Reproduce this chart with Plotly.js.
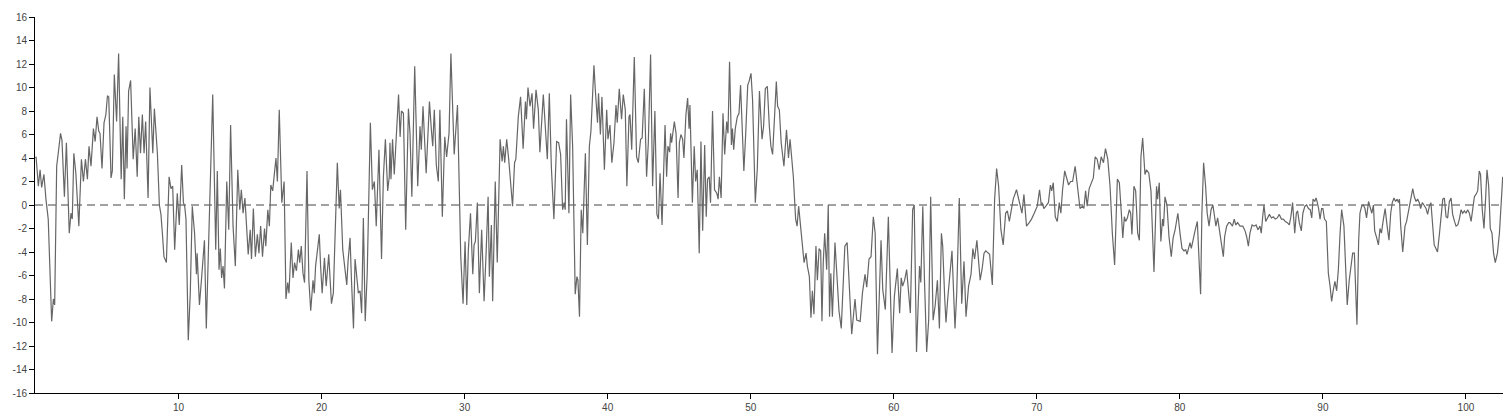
<!DOCTYPE html>
<html>
<head>
<meta charset="utf-8">
<script src="https://cdn.plot.ly/plotly-3.0.1.min.js"></script>
<style>html,body{margin:0;padding:0;background:#fff;}#chart{width:1508px;height:416px;}</style>
</head>
<body>
<div id="chart"></div>
<script>
const xValues = [
0.00,0.04,0.20,0.32,0.43,0.59,0.73,0.89,1.13,1.25,1.34,1.48,1.59,1.75,1.85,2.02,2.16,2.36,2.48,2.57,2.68,2.82,3.03,3.21,3.35,3.49,3.63,3.74,3.88,4.05,4.17,4.30,4.42,4.51,4.65,4.79,4.92,5.03,5.12,5.28,5.37,5.51,5.67,5.81,5.99,6.10,6.21,6.33,6.40,6.51,6.65,6.83,6.97,7.11,7.22,7.34,7.47,7.59,7.70,7.87,
8.00,8.20,8.31,8.52,8.66,8.77,8.87,8.98,9.15,9.34,9.47,9.59,9.73,9.91,10.05,10.22,10.34,10.43,10.52,10.68,10.82,10.96,11.12,11.25,11.30,11.46,11.60,11.81,11.94,12.12,12.21,12.39,12.60,12.71,12.83,12.92,13.01,13.11,13.21,13.37,13.51,13.64,13.81,13.97,14.14,14.28,14.39,14.51,14.64,14.76,14.87,15.01,15.10,15.23,15.37,15.51,15.62,15.74,15.87,16.01,16.10,16.24,16.35,
16.45,16.58,16.81,16.91,17.04,17.22,17.38,17.51,17.63,17.72,17.88,18.00,18.11,18.24,18.38,18.47,18.58,18.70,18.81,18.98,19.11,19.24,19.40,19.49,19.58,19.68,19.84,19.93,20.04,20.20,20.32,20.50,20.69,20.82,21.10,21.23,21.32,21.48,21.62,21.76,21.85,21.99,22.08,22.23,22.34,22.43,22.57,22.69,22.80,22.92,23.05,23.19,23.41,23.55,23.69,23.82,24.01,24.19,24.32,24.46,24.62,24.73,
24.78,24.85,24.96,25.08,25.38,25.49,25.58,25.72,25.88,26.07,26.18,26.31,26.51,26.72,26.88,26.97,27.09,27.31,27.54,27.68,27.77,27.88,28.02,28.16,28.27,28.44,28.61,28.74,28.91,29.04,29.27,29.50,29.62,29.73,29.89,30.03,30.15,30.26,30.41,30.57,30.66,30.75,30.89,31.03,31.19,31.36,31.50,31.64,31.73,31.87,31.96,32.14,32.28,32.48,32.62,32.71,32.80,32.94,33.08,
33.21,33.35,33.49,33.58,33.75,33.91,34.09,34.25,34.32,34.43,34.57,34.71,34.82,34.99,35.15,35.26,35.50,35.62,35.78,35.92,36.06,36.24,36.43,36.57,36.71,36.85,36.96,37.03,37.12,37.29,37.41,37.55,37.73,37.85,37.92,38.03,38.15,38.26,38.44,38.58,38.72,38.83,38.95,39.04,39.13,39.29,39.36,39.49,39.60,39.77,39.93,40.02,40.16,40.29,40.44,40.58,40.67,40.81,40.97,41.09,41.23,41.34,41.49,
41.56,41.68,41.86,42.02,42.14,42.30,42.41,42.56,42.72,42.84,43.00,43.14,43.30,43.44,43.55,43.66,43.80,44.01,44.12,44.21,44.33,44.40,44.47,44.66,44.78,44.92,45.01,45.12,45.24,45.33,45.47,45.59,45.69,45.75,45.92,46.05,46.15,46.26,46.40,46.52,46.64,46.78,46.89,46.98,47.10,47.19,47.33,47.47,47.63,47.72,47.81,47.93,48.06,48.18,48.32,48.41,48.52,48.65,48.72,48.81,48.92,49.06,49.18,49.29,49.41,49.52,49.65,49.79,49.88,
50.02,50.13,50.32,50.46,50.61,50.79,50.90,51.02,51.16,51.30,51.41,51.53,51.65,51.79,51.88,52.00,52.13,52.32,52.50,52.64,52.75,52.87,52.98,53.14,53.24,53.35,53.44,53.58,53.73,53.87,53.96,54.10,54.21,54.31,54.42,54.56,54.66,54.78,54.89,54.98,55.07,55.17,55.31,55.42,55.51,55.60,55.71,55.89,56.05,56.17,56.33,56.47,56.58,56.74,56.88,57.06,57.29,57.41,57.65,57.81,57.99,58.11,58.27,
58.41,58.57,58.70,58.86,59.11,59.23,59.41,59.62,59.74,59.88,60.04,60.25,60.41,60.52,60.62,60.76,60.90,61.02,61.16,61.32,61.43,61.59,61.80,61.89,62.03,62.14,62.30,62.44,62.58,62.75,62.89,63.05,63.19,63.33,63.42,63.56,63.65,63.77,63.94,64.07,64.28,64.40,64.58,64.75,64.91,65.05,65.23,65.40,65.53,65.65,65.81,65.92,66.04,66.18,66.31,66.43,66.57,66.70,
66.89,67.05,67.19,67.33,67.49,67.65,67.82,67.94,68.08,68.26,68.35,68.58,68.70,68.87,68.96,69.10,69.28,69.47,69.63,69.82,70.03,70.19,70.31,70.37,70.49,70.63,70.81,70.95,71.04,71.15,71.29,71.43,71.57,71.68,71.80,71.95,72.09,72.22,72.36,72.50,72.68,72.83,73.02,73.20,73.29,73.41,73.52,73.66,73.82,73.95,74.08,74.22,74.36,74.50,74.66,74.80,74.96,75.12,
75.28,75.44,75.63,75.77,75.91,76.01,76.12,76.21,76.33,76.47,76.56,76.65,76.79,76.91,77.05,77.17,77.28,77.40,77.56,77.67,77.83,77.98,78.19,78.37,78.44,78.56,78.67,78.79,78.86,78.96,79.10,79.24,79.40,79.53,79.67,79.86,80.01,80.15,80.29,80.41,80.50,80.61,80.71,80.80,80.95,81.06,81.22,81.31,81.45,81.54,81.66,81.80,81.91,82.04,82.18,82.31,82.41,82.52,82.64,82.75,82.89,83.04,83.13,83.27,83.41,
83.50,83.68,83.80,83.91,84.03,84.21,84.40,84.56,84.67,84.79,84.90,85.05,85.19,85.33,85.46,85.60,85.69,85.79,85.88,86.00,86.12,86.26,86.40,86.53,86.67,86.81,86.95,87.10,87.23,87.37,87.51,87.65,87.76,87.88,88.03,88.14,88.23,88.35,88.49,88.60,88.74,88.86,88.99,89.11,89.22,89.31,89.43,89.52,89.61,89.70,89.80,89.91,90.00,90.11,90.24,90.38,90.50,90.61,90.73,90.84,90.96,91.08,91.20,91.31,91.47,91.59,91.70,91.84,91.96,92.08,92.20,92.29,92.38,92.50,92.59,
92.71,92.82,92.94,93.05,93.19,93.30,93.42,93.53,93.62,93.76,93.88,93.99,94.09,94.23,94.35,94.49,94.62,94.74,94.85,94.97,95.08,95.19,95.28,95.35,95.44,95.58,95.74,95.85,96.01,96.16,96.28,96.39,96.51,96.62,96.74,96.83,96.95,97.06,97.21,97.32,97.44,97.55,97.67,97.78,97.90,98.01,98.15,98.26,98.38,98.49,98.61,98.72,98.84,98.96,99.07,99.20,99.31,99.43,99.54,99.66,99.77,99.89,100.00,100.12,100.24,100.36,100.47,100.59,100.70,100.82,100.93,101.02,101.14,101.26,101.38,101.47,101.59,101.70,101.82,101.93,102.05,102.20,102.34,102.46,102.57
];
const yValues = [
4.0,4.1,1.6,3.0,1.5,2.6,0.5,-1.2,-9.9,-8.0,-8.5,3.3,4.4,6.1,5.5,0.7,5.3,-2.4,-0.7,-1.2,4.4,2.7,-1.8,3.9,2.0,3.9,2.2,5.0,3.3,6.5,5.4,7.5,6.3,6.1,3.1,7.0,7.7,9.3,9.2,2.3,2.9,11.1,7.1,12.9,2.2,7.5,0.5,6.7,3.1,9.7,10.6,3.9,6.5,2.4,7.5,4.4,7.7,4.4,7.1,0.6,
10.0,4.4,8.2,4.4,0.0,-0.8,-2.4,-4.4,-4.9,2.4,1.4,1.6,-3.8,1.0,-1.7,3.4,0.2,-0.1,-1.2,-11.5,-7.5,-0.1,-2.4,-5.9,-4.1,-8.5,-6.4,-3.0,-10.5,-2.4,2.6,9.4,-3.8,2.9,-5.5,-3.7,-6.2,-5.2,-7.1,2.0,-2.1,6.8,-1.8,-5.2,3.0,-0.4,1.3,-0.7,0.6,-2.4,-4.2,-2.1,-4.6,-0.3,-4.4,-2.5,-4.1,-1.8,-4.4,-2.0,-3.5,-0.4,-1.8,
1.7,1.2,4.0,2.0,8.1,0.2,2.0,-8.0,-6.6,-7.5,-3.2,-6.2,-4.9,-5.6,-3.8,-4.9,-3.5,-5.8,-6.6,2.9,-6.4,-9.0,-6.4,-7.5,-5.2,-4.1,-2.5,-5.2,-7.5,-4.5,-6.9,-4.2,-8.4,-7.5,3.6,-0.3,1.3,-3.8,-5.2,-6.8,-4.8,-2.8,-6.1,-10.5,-4.6,-5.8,-7.5,-7.3,-9.2,-1.1,-9.9,-5.8,7.0,1.3,2.0,-1.8,4.7,-4.6,2.4,5.6,1.2,2.4,
5.3,2.2,5.6,2.6,9.4,5.8,8.0,7.8,-2.1,8.2,6.1,0.7,11.8,1.6,6.7,4.7,8.4,2.7,8.8,6.3,5.0,8.1,3.4,2.0,8.1,-1.0,5.8,4.1,6.1,12.9,4.3,8.5,0.7,-4.4,-8.4,-3.1,-8.5,-3.8,-0.7,-5.9,-3.4,-3.1,0.2,-7.5,-2.1,-8.2,-4.1,0.7,-6.1,-1.7,-8.2,2.0,-4.9,5.6,3.7,5.0,3.6,5.6,3.9,
2.0,-0.1,3.6,3.9,7.5,9.2,4.8,8.8,7.3,10.0,8.4,9.5,6.5,9.8,8.1,4.5,9.4,6.5,3.9,9.5,3.3,-1.2,5.4,5.3,4.3,-0.4,0.2,-0.4,7.3,-0.7,9.4,5.0,-7.6,-6.1,-6.4,-9.5,-0.4,-2.4,4.4,-3.4,5.0,6.3,8.9,11.9,9.9,7.0,9.5,6.0,9.2,3.0,8.1,5.6,6.8,3.6,5.3,8.5,7.0,9.9,7.3,9.4,8.1,1.6,7.5,
7.7,4.7,12.6,4.1,3.6,5.6,5.7,9.9,2.4,5.3,12.8,1.6,8.0,-0.8,-1.2,2.7,-1.7,6.8,2.4,5.0,4.5,6.1,5.3,7.1,6.1,0.6,5.3,6.0,5.6,4.0,7.7,9.1,6.5,8.5,0.2,5.0,2.0,3.0,-4.1,5.4,-2.2,5.1,-1.0,2.2,2.4,0.2,8.0,1.3,1.0,0.5,2.4,0.6,7.8,4.3,7.1,6.1,12.2,5.1,6.5,4.7,6.5,7.5,7.8,10.2,5.8,2.9,6.1,10.2,10.5,
11.2,8.9,0.2,3.1,9.7,5.6,6.7,9.9,10.1,6.7,5.0,4.3,7.8,10.5,8.4,8.1,5.3,3.3,6.4,4.0,5.6,4.1,2.4,-1.2,-1.8,-0.1,-1.4,-3.0,-4.9,-4.1,-5.2,-6.1,-9.6,-7.3,-9.3,-3.5,-6.4,-3.7,-3.9,-9.9,-4.9,-2.4,-5.5,0.0,-9.5,-5.8,-9.5,-3.2,-6.4,-9.0,-10.5,-6.4,-3.5,-3.2,-6.4,-11.0,-8.0,-9.8,-9.9,-7.5,-5.9,-7.0,-4.6,
-4.4,-1.0,-2.4,-12.7,-3.0,-7.2,-8.9,-1.0,-6.1,-12.6,-7.8,-5.4,-9.2,-6.2,-6.9,-6.4,-5.5,-7.5,-9.2,-0.4,0.0,-12.5,-5.2,-6.6,-0.1,-6.1,-12.5,-9.8,0.7,-9.8,-8.6,-6.4,-10.5,-2.4,-3.5,-7.9,-10.0,-8.0,-5.8,-3.9,-10.5,-7.5,0.6,-8.4,-4.8,-9.5,-6.9,-5.9,-3.7,-4.6,-3.0,-4.4,-6.4,-5.4,-4.1,-3.9,-4.1,-4.2,
-6.8,0.5,3.1,1.6,-2.1,-3.4,-0.7,-0.5,-1.4,0.0,0.5,1.3,0.7,-0.3,-0.7,0.9,-1.8,-1.5,-1.2,-0.7,-0.1,1.3,0.0,0.2,-0.3,-0.1,0.2,1.7,1.2,1.9,-1.0,-1.4,0.2,-0.7,1.3,2.9,2.2,1.7,2.0,2.0,3.3,1.6,-0.3,-0.1,-0.3,1.2,-0.1,1.4,2.0,2.3,4.1,3.9,3.0,4.1,3.6,4.8,3.9,1.6,
-2.4,-5.1,2.2,1.9,-0.7,-2.8,-1.0,-1.4,-1.1,-0.4,-0.7,-2.5,1.6,1.2,-2.4,-3.0,4.1,5.7,2.6,3.0,2.7,1.2,-5.7,1.6,0.5,1.9,-3.1,-1.2,-1.8,0.7,0.0,-2.7,-4.4,-2.8,-2.1,-0.7,-2.4,-3.7,-3.9,-3.8,-4.2,-3.5,-3.2,-3.7,-2.7,-2.2,-1.4,-4.1,-7.6,-0.7,3.6,1.6,-0.7,-1.8,-0.4,0.0,-0.7,-1.8,-1.1,-2.1,-3.0,-4.4,-2.7,-1.8,-1.5,
-1.5,-1.8,-1.2,-1.7,-1.5,-1.8,-1.8,-2.2,-2.7,-3.5,-2.4,-1.7,-1.8,-1.7,-2.1,-1.8,-2.4,-1.0,0.0,-1.4,-1.1,-0.8,-1.1,-1.0,-1.2,-1.1,-0.8,-1.2,-1.2,-1.4,-1.5,-1.7,-1.0,0.2,-2.4,-0.7,-0.5,-1.5,-2.2,-0.7,-0.1,0.0,-0.3,-0.4,-1.1,0.5,0.3,0.6,0.2,-0.3,-1.2,-0.3,-0.3,-1.2,-1.4,-5.8,-6.9,-8.2,-7.2,-6.5,-7.3,-5.5,-2.4,-0.4,-1.8,-5.8,-8.5,-6.4,-5.2,-4.1,-4.1,-7.8,-10.2,-3.0,-0.7,
-0.1,0.0,-0.3,-1.1,0.3,-0.1,-0.7,0.0,-2.2,-2.8,-3.4,-2.0,-2.4,-1.2,-0.3,-1.8,-3.0,-0.7,0.2,0.6,0.3,0.5,0.2,0.5,-1.8,-4.0,-1.8,-1.4,-0.4,0.7,1.4,0.7,0.3,0.5,0.2,-0.3,0.2,0.0,-0.3,-0.8,-0.1,0.2,-2.1,-3.4,-3.7,-4.0,-2.4,-0.7,0.5,0.6,-1.0,-1.1,0.3,0.6,-0.8,-1.4,-1.8,-1.7,-1.2,-0.4,-0.7,-0.5,-0.7,-0.4,-0.7,-1.4,-0.1,0.7,0.9,1.2,2.9,2.6,-0.4,-2.0,0.7,3.0,1.6,-2.0,-2.4,-4.1,-4.9,-4.1,-2.4,-0.1,2.4
];
const xTickVals = [10,20,30,40,50,60,70,80,90,100];
const yTickVals = [-16,-14,-12,-10,-8,-6,-4,-2,0,2,4,6,8,10,12,14,16];
const xRange = [-0.035, 102.59];
const yRange = [-16, 16];

const trace = {
  x: xValues, y: yValues, type: 'scatter', mode: 'lines',
  line: {color: '#666666', width: 1.2, shape: 'linear'},
  hoverinfo: 'skip'
};
const tickFont = {family: 'Liberation Sans, Arial, sans-serif', size: 10, color: '#444'};
const layout = {
  width: 1508, height: 416,
  margin: {l: 35, r: 5, t: 17, b: 23, pad: 0},
  paper_bgcolor: '#fff', plot_bgcolor: '#fff',
  showlegend: false,
  xaxis: {
    range: xRange, tickmode: 'array', tickvals: xTickVals, ticktext: xTickVals.map(String),
    ticks: 'outside', ticklen: 5, tickwidth: 1, tickcolor: '#000',
    showline: true, linecolor: '#000', linewidth: 1,
    showgrid: false, zeroline: false, tickfont: tickFont
  },
  yaxis: {
    range: yRange, tickmode: 'array', tickvals: yTickVals, ticktext: yTickVals.map(String),
    ticks: 'outside', ticklen: 5, tickwidth: 1, tickcolor: '#000',
    showline: true, linecolor: '#000', linewidth: 1,
    showgrid: false, zeroline: false, tickfont: tickFont
  },
  shapes: [{
    type: 'line', xref: 'paper', yref: 'y', x0: 0, x1: 1, y0: 0, y1: 0,
    line: {color: '#444', width: 1, dash: '8px,5px'}, layer: 'below'
  }]
};
Plotly.newPlot('chart', [trace], layout, {displayModeBar: false, staticPlot: true});
</script>
</body>
</html>
